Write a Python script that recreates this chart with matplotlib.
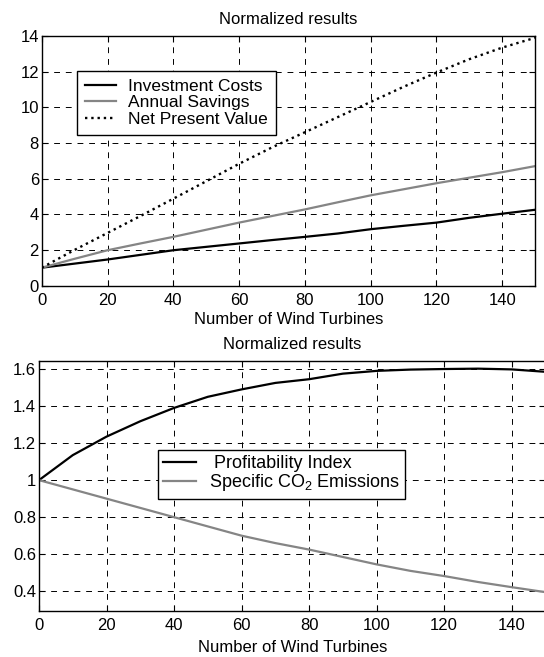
import matplotlib
matplotlib.use('Agg')
import matplotlib.pyplot as plt

plt.rcParams['font.family'] = ['Liberation Sans', 'DejaVu Sans']
plt.rcParams['mathtext.fontset'] = 'custom'
plt.rcParams['mathtext.rm'] = 'Liberation Sans'

# nombre d'eoliennes
turbines = [0, 10, 20, 30, 40, 50, 60, 70, 80, 90, 100, 110, 120, 130, 140, 150]

# graphe du haut
invest = [1.0, 1.23, 1.46, 1.72, 1.98, 2.17, 2.36, 2.55, 2.73, 2.92, 3.16, 3.35, 3.53, 3.8, 4.03, 4.25]
savings = [1.0, 1.5, 1.98, 2.36, 2.73, 3.13, 3.53, 3.9, 4.27, 4.67, 5.06, 5.4, 5.74, 6.05, 6.36, 6.7]
npv = [1.0, 2.0, 2.95, 3.9, 4.87, 5.85, 6.83, 7.75, 8.6, 9.45, 10.3, 11.15, 11.95, 12.7, 13.35, 13.9]

# graphe du bas
profit = [1.0, 1.135, 1.235, 1.318, 1.39, 1.45, 1.49, 1.525, 1.545, 1.575, 1.59, 1.597, 1.6, 1.602, 1.598, 1.585]
co2 = [1.0, 0.95, 0.9, 0.85, 0.8, 0.75, 0.7, 0.66, 0.625, 0.585, 0.545, 0.51, 0.482, 0.45, 0.422, 0.395]

xticks = [0, 20, 40, 60, 80, 100, 120, 140]
yticks_top = [0, 2, 4, 6, 8, 10, 12, 14]
yticks_bot = [0.4, 0.6, 0.8, 1.0, 1.2, 1.4, 1.6]
ylabels_bot = ['0.4', '0.6', '0.8', '1', '1.2', '1.4', '1.6']

GREY = '#858585'

fig = plt.figure(figsize=(5.44, 6.57), dpi=100)
ax1 = fig.add_axes([0.0767, 0.5654, 0.907, 0.3798])
ax2 = fig.add_axes([0.0717, 0.0705, 0.931, 0.3805])


def style(ax, labelpad):
    ax.grid(True, color='black', linestyle=(0, (6, 6)), linewidth=0.7)
    ax.tick_params(direction='in', top=True, right=True, length=4,
                   labelsize=12, width=0.8)
    ax.tick_params(axis='y', pad=2)
    ax.tick_params(axis='x', pad=5.5)
    for s in ax.spines.values():
        s.set_linewidth(1.0)
    ax.set_xlim(0, 150)
    ax.set_xticks(xticks)
    ax.set_title("Normalized results", fontsize=12, pad=8.5)
    ax.set_xlabel("Number of Wind Turbines", fontsize=12, labelpad=labelpad)


ax1.plot(turbines, invest, color='black', lw=1.6, label="Investment Costs")
ax1.plot(turbines, savings, color=GREY, lw=1.6, label="Annual Savings")
ax1.plot(turbines, npv, color='black', lw=1.7, linestyle=':', label="Net Present Value")
style(ax1, 2.5)
ax1.set_ylim(0, 14)
ax1.set_yticks(yticks_top)
leg1 = ax1.legend(loc='upper left', bbox_to_anchor=(0.0716, 0.861), borderaxespad=0,
                  fancybox=False, edgecolor='black', framealpha=1, fontsize=12.5,
                  handlelength=1.8, labelspacing=0.08, borderpad=0.45, handletextpad=0.7)
leg1.get_frame().set_linewidth(1.0)

ax2.plot(turbines, profit, color='black', lw=1.6, label=" Profitability Index")
ax2.plot(turbines, co2, color=GREY, lw=1.6, label="Specific CO$\\mathregular{_2}$ Emissions")
style(ax2, 4.5)
ax2.set_ylim(0.295, 1.645)
ax2.set_yticks(yticks_bot)
ax2.set_yticklabels(ylabels_bot)
leg2 = ax2.legend(loc='upper left', bbox_to_anchor=(0.235, 0.643), borderaxespad=0,
                  fancybox=False, edgecolor='black', framealpha=1, fontsize=13,
                  handlelength=1.8, labelspacing=0.0, borderpad=0.3, handletextpad=0.7)
leg2.get_frame().set_linewidth(1.0)

fig.savefig('out.png', dpi=100)
